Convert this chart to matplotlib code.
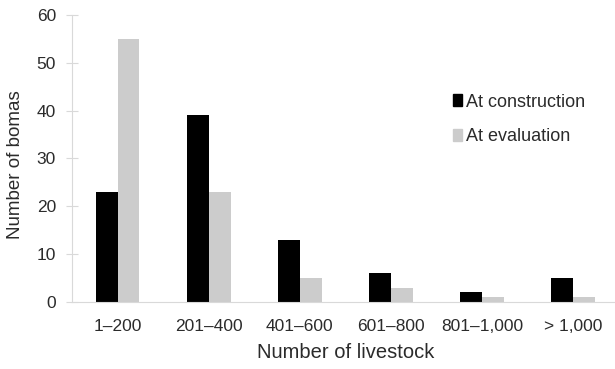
import numpy as np
import matplotlib.pyplot as plt
from matplotlib.patches import Patch

plt.rcParams['font.family'] = ['Liberation Sans', 'DejaVu Sans']

# data
categories = ['1\u2013200', '201\u2013400', '401\u2013600', '601\u2013800', '801\u20131,000', '> 1,000']
at_construction = [23, 39, 13, 6, 2, 5]
at_evaluation = [55, 23, 5, 3, 1, 1]

txt = '#2b2b2b'
axc = '#d9d9d9'

fig = plt.figure(figsize=(6.15, 3.69), dpi=100)
ax = fig.add_axes([0.117, 0.1816, 0.889, 0.7778])

x = np.arange(len(categories))
w = 0.24
ax.bar(x - w / 2, at_construction, w, color='black', label='At construction')
ax.bar(x + w / 2, at_evaluation, w, color='#cccccc', label='At evaluation')

ax.set_xlim(-0.5, 5.5)
ax.set_ylim(0, 60)
ax.set_yticks(range(0, 61, 10))
ax.set_xticks(x)
ax.set_xticklabels(categories)

for s in ['top', 'right']:
    ax.spines[s].set_visible(False)
ax.spines['left'].set_color(axc)
ax.spines['bottom'].set_color(axc)
ax.tick_params(axis='y', direction='inout', length=9, color=axc, labelsize=12.5, labelcolor=txt, pad=7)
ax.tick_params(axis='x', length=0, labelsize=12.5, labelcolor=txt, pad=12)

ax.set_xlabel('Number of livestock', fontsize=14.5, color=txt, labelpad=7)
ax.set_ylabel('Number of bomas', fontsize=13.5, color=txt)
# centre of y label sits a little below mid-axis in the reference
ax.yaxis.set_label_coords(-0.088, 0.48)

handles = [Patch(color='black'), Patch(color='#cccccc')]
fig.legend(handles, ['At construction', 'At evaluation'], loc='upper left',
           bbox_to_anchor=(0.71, 0.79), frameon=False, fontsize=13,
           handlelength=0.5, handleheight=0.65, handletextpad=0.25,
           labelspacing=0.95, labelcolor=txt)

fig.savefig('out.png', dpi=100)
